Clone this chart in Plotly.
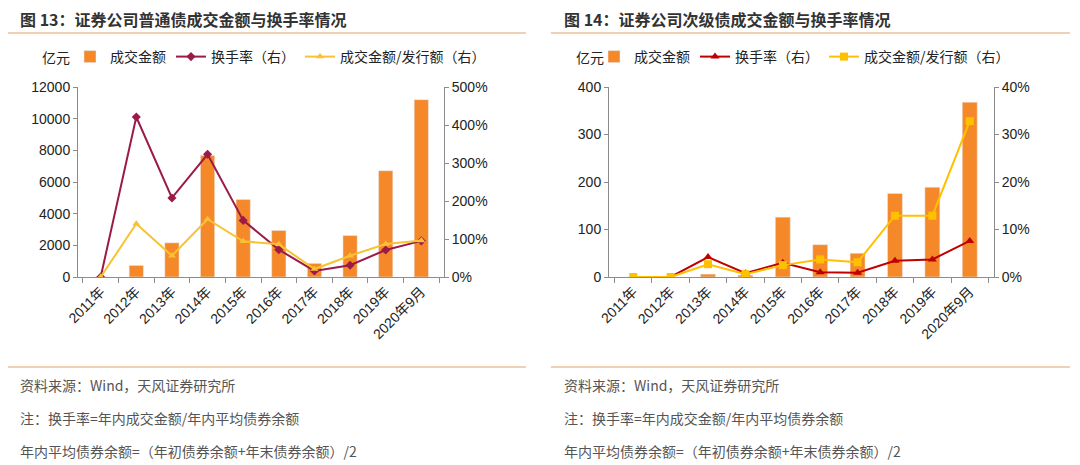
import plotly.graph_objects as go

categories = ["2011年", "2012年", "2013年", "2014年", "2015年", "2016年", "2017年", "2018年", "2019年", "2020年9月"]

# Chart 13: ordinary bonds
ord_amount = [0, 730, 2160, 7680, 4890, 2940, 860, 2620, 6710, 11200]
ord_turnover = [0, 4.21, 2.08, 3.23, 1.49, 0.72, 0.16, 0.31, 0.71, 0.95]
ord_ratio = [0, 1.40, 0.56, 1.52, 0.94, 0.86, 0.21, 0.56, 0.87, 0.96]

# Chart 14: subordinated bonds
sub_amount = [0, 0, 6, 4, 126, 68, 50, 176, 189, 368]
sub_turnover = [0, 0, 0.042, 0.008, 0.030, 0.010, 0.009, 0.034, 0.037, 0.076]
sub_ratio = [0, 0, 0.027, 0.006, 0.025, 0.037, 0.031, 0.129, 0.129, 0.328]

title_left = "图 13：证券公司普通债成交金额与换手率情况"
title_right = "图 14：证券公司次级债成交金额与换手率情况"
notes = ["资料来源：Wind，天风证券研究所",
         "注：换手率=年内成交金额/年内平均债券余额",
         "年内平均债券余额=（年初债券余额+年末债券余额）/2"]

# page body has an 8px margin, so the figure is sized to fit the window
OFF = 8
W, H = 1080 - OFF, 465 - OFF
FONT = "Liberation Sans, Arial, Noto Sans CJK SC, sans-serif"
CJK = "Noto Sans CJK SC, sans-serif"
ORANGE = "#F5892A"
MAROON = "#9C1A4A"
RED = "#C00000"
YELLOW = "#F9C233"
YELLOW2 = "#FFC000"
AXIS = "#8C8C8C"

def px(x):
    return (x - OFF) / W

def py(y):
    return 1 - (y - OFF) / H

fig = go.Figure()

# Left chart traces
fig.add_trace(go.Bar(x=categories, y=ord_amount, name="成交金额", marker_color=ORANGE,
                     width=0.4, xaxis="x", yaxis="y", legend="legend"))
fig.add_trace(go.Scatter(x=categories, y=ord_turnover, name="换手率（右）", mode="lines+markers",
                         line=dict(color=MAROON, width=2), marker=dict(symbol="diamond", size=7, color=MAROON),
                         xaxis="x", yaxis="y2", legend="legend"))
fig.add_trace(go.Scatter(x=categories, y=ord_ratio, name="成交金额/发行额（右）", mode="lines+markers",
                         line=dict(color=YELLOW, width=2), marker=dict(symbol="triangle-up", size=7, color=YELLOW),
                         xaxis="x", yaxis="y2", legend="legend"))

# Right chart traces
fig.add_trace(go.Bar(x=categories, y=sub_amount, name="成交金额", marker_color=ORANGE,
                     width=0.4, xaxis="x2", yaxis="y3", legend="legend2"))
fig.add_trace(go.Scatter(x=categories, y=sub_turnover, name="换手率（右）", mode="lines+markers",
                         line=dict(color=RED, width=2), marker=dict(symbol="triangle-up", size=8, color=RED),
                         xaxis="x2", yaxis="y4", legend="legend2"))
fig.add_trace(go.Scatter(x=categories, y=sub_ratio, name="成交金额/发行额（右）", mode="lines+markers",
                         line=dict(color=YELLOW2, width=2), marker=dict(symbol="square", size=8, color=YELLOW2),
                         xaxis="x2", yaxis="y4", legend="legend2"))

ydom = [py(277), py(87)]
TICKFONT = dict(size=14, color="#222", family=FONT)
xaxis_common = dict(type="category", showline=True, linecolor=AXIS, linewidth=1,
                    ticks="outside", tickson="boundaries", ticklen=5, tickcolor=AXIS,
                    tickangle=-45, tickfont=TICKFONT,
                    showgrid=False, zeroline=False, fixedrange=True, automargin=False)
yaxis_common = dict(showline=True, linecolor=AXIS, linewidth=1, ticks="outside", ticklen=4,
                    tickcolor=AXIS, showgrid=False, zeroline=False, automargin=False,
                    tickfont=TICKFONT)

fig.update_layout(
    width=W, height=H,
    margin=dict(l=0, r=0, t=0, b=0, autoexpand=False),
    paper_bgcolor="white", plot_bgcolor="white",
    font=dict(family=FONT, color="#222"),
    showlegend=True,
    xaxis=dict(domain=[px(78), px(444)], anchor="y", **xaxis_common),
    yaxis=dict(domain=ydom, range=[0, 12000], dtick=2000, tickformat="d", anchor="x", **yaxis_common),
    yaxis2=dict(range=[0, 5], dtick=1, tickformat=".0%", overlaying="y", side="right",
                anchor="x", **yaxis_common),
    xaxis2=dict(domain=[px(609), px(994)], anchor="y3", **xaxis_common),
    yaxis3=dict(domain=ydom, range=[0, 400], dtick=100, tickformat="d", anchor="x2", **yaxis_common),
    yaxis4=dict(range=[0, 0.4], dtick=0.1, tickformat=".0%", overlaying="y3", side="right",
                anchor="x2", **yaxis_common),
    legend=dict(orientation="h", x=px(70), y=py(57), xanchor="left", yanchor="middle",
                font=dict(size=14, family=CJK, color="#222"), bgcolor="rgba(0,0,0,0)",
                itemwidth=30),
    legend2=dict(orientation="h", x=px(594), y=py(57), xanchor="left", yanchor="middle",
                 font=dict(size=14, family=CJK, color="#222"), bgcolor="rgba(0,0,0,0)",
                 itemwidth=30),
)

shapes = []
for x0, x1 in [(8, 526), (551, 1070)]:
    shapes.append(dict(type="line", xref="paper", yref="paper", x0=px(x0), x1=px(x1),
                       y0=py(33), y1=py(33), line=dict(color="#EDC29A", width=1.5)))
    shapes.append(dict(type="line", xref="paper", yref="paper", x0=px(x0), x1=px(x1),
                       y0=py(367), y1=py(367), line=dict(color="#EDC29A", width=1.5)))
fig.update_layout(shapes=shapes)

ann = []
for x, t in [(18, title_left), (562, title_right)]:
    ann.append(dict(xref="paper", yref="paper", x=px(x), y=py(19.5), xanchor="left", yanchor="middle",
                    text="<b>" + t + "</b>", showarrow=False,
                    font=dict(size=16, family=CJK, color="#333")))
for x in [40, 574]:
    ann.append(dict(xref="paper", yref="paper", x=px(x), y=py(57), xanchor="left", yanchor="middle",
                    text="亿元", showarrow=False, font=dict(size=14, family=CJK, color="#222")))
for x in [18, 562]:
    for i, t in enumerate(notes):
        ann.append(dict(xref="paper", yref="paper", x=px(x), y=py(385 + 33 * i), xanchor="left",
                        yanchor="middle", text=t, showarrow=False,
                        font=dict(size=14, family=CJK, color="#555")))
fig.update_layout(annotations=ann)

fig.write_html("out.html")
